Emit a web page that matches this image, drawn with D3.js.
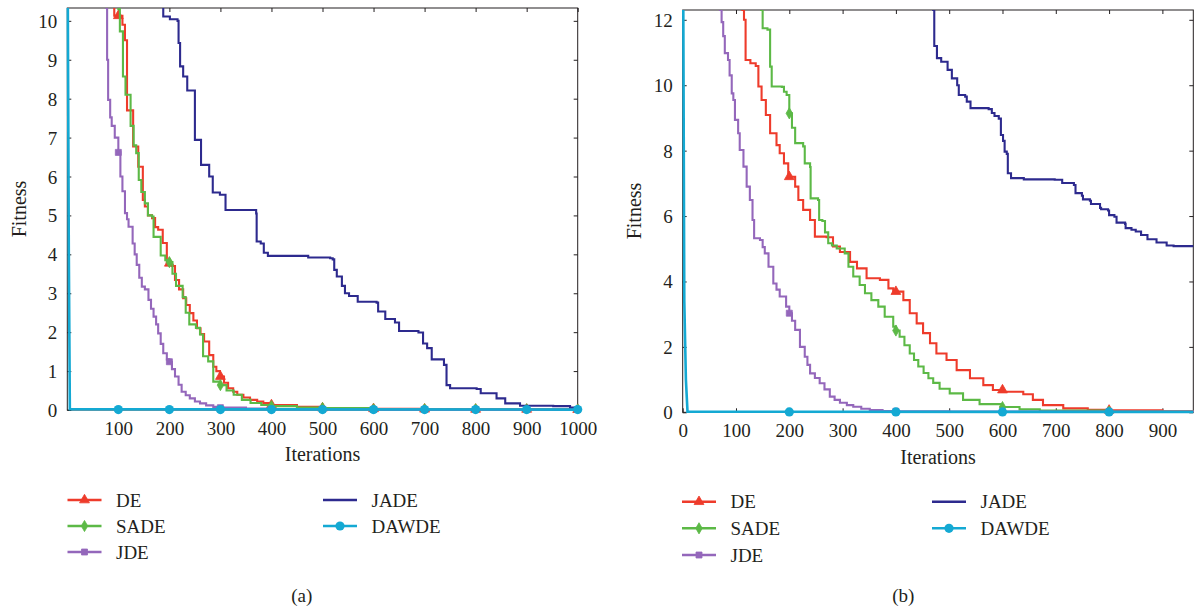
<!DOCTYPE html>
<html><head><meta charset="utf-8">
<script src="https://cdn.jsdelivr.net/npm/d3@7/dist/d3.min.js"></script>
<style>
body{margin:0;background:#fff}
text{font-family:"Liberation Serif","Times New Roman",serif;fill:#231f20}
</style>
</head><body>
<svg id="chart" width="1194" height="612"></svg>
<script>
// ---------- shared ----------
const seriesNames = ["DE", "SADE", "JDE", "JADE", "DAWDE"];
const seriesColors = ["#ee3b2b", "#5cb946", "#9467bb", "#2d2a8e", "#14a9d3"];
const seriesMarkers = ["triangle", "diamond", "square", null, "circle"];

// ---------- panel (a) ----------
const xTicksA = [100, 200, 300, 400, 500, 600, 700, 800, 900, 1000];
const yTicksA = [0, 1, 2, 3, 4, 5, 6, 7, 8, 9, 10];
const deA = [[88,11],[92,10.13],[106,10.13],[108,9.9],[113,9.5],[117,7.7],[129,6.77],[139,6.25],[148,5.4],[152,5.23],[158,5.0],[166,4.93],[172,4.7],[178,4.63],[187,4.29],[195,3.77],[205,3.7],[211,3.34],[219,3.1],[227,2.87],[233,2.7],[240,2.49],[247,2.3],[254,2.1],[261,1.95],[268,1.76],[278,1.41],[286,1.11],[292,1.0],[299,0.86],[307,0.7],[315,0.56],[325,0.47],[333,0.39],[345,0.32],[358,0.26],[372,0.22],[384,0.18],[400,0.13],[450,0.08],[500,0.05],[600,0.03],[700,0.02],[800,0.015],[1000,0.01]];
const sadeA = [[98,11],[100,10.3],[103,9.73],[109,8.57],[114,8.1],[119,8.1],[124,7.3],[130,6.8],[135,6.6],[140,5.91],[145,5.6],[152,5.31],[158,5.0],[166,4.97],[169,4.45],[178,4.45],[183,3.97],[192,3.85],[200,3.8],[206,3.5],[213,3.19],[226,2.9],[232,2.5],[239,2.2],[252,2.11],[260,1.94],[266,1.38],[276,1.25],[286,0.73],[299,0.64],[312,0.5],[326,0.39],[342,0.26],[359,0.18],[380,0.13],[400,0.1],[450,0.06],[500,0.05],[600,0.02],[1000,0.01]];
const jdeA = [[74,11],[76,10.33],[78,9.0],[80,7.97],[84,7.52],[87,7.3],[93,7.0],[100,6.62],[104,6.0],[108,5.62],[113,5.06],[117,4.9],[120,4.71],[128,4.28],[132,4.0],[136,3.73],[141,3.4],[146,3.17],[152,3.1],[159,2.83],[164,2.6],[169,2.4],[174,2.2],[178,1.97],[183,1.7],[188,1.46],[195,1.3],[200,1.24],[205,1.05],[211,0.86],[218,0.65],[224,0.47],[232,0.38],[240,0.3],[250,0.22],[260,0.17],[272,0.12],[286,0.08],[300,0.06],[350,0.04],[400,0.02],[600,0.01],[1000,0.005]];
const jadeA = [[185,11],[188,10.11],[201,10.04],[216,10.0],[218,9.43],[221,8.83],[227,8.57],[235,8.21],[250,6.94],[262,6.3],[278,6.0],[285,5.59],[299,5.53],[310,5.14],[370,5.05],[371,4.33],[379,4.28],[385,4.04],[393,3.96],[472,3.92],[515,3.9],[520,3.87],[523,3.6],[528,3.43],[538,3.19],[544,3.0],[552,2.93],[569,2.78],[606,2.76],[609,2.53],[623,2.34],[642,2.25],[650,2.03],[688,1.99],[697,1.71],[705,1.59],[714,1.3],[738,1.16],[743,0.64],[750,0.56],[802,0.54],[810,0.43],[841,0.3],[858,0.17],[887,0.11],[952,0.1],[985,0.06],[1000,0.05]];
const dawdeA = [[0,60],[1,10.5],[3,4],[5,0.02],[1000,0.01]];

// ---------- panel (b) ----------
const xTicksB = [0, 100, 200, 300, 400, 500, 600, 700, 800, 900];
const yTicksB = [0, 2, 4, 6, 8, 10, 12];
const deB = [[110,13],[112,12.3],[115,12.0],[118,10.77],[127,10.67],[137,10.59],[142,9.96],[148,9.55],[156,9.09],[164,8.53],[176,8.17],[182,7.92],[190,7.61],[198,7.2],[211,6.9],[217,6.49],[226,6.19],[239,5.88],[248,5.37],[270,5.35],[282,5.07],[295,4.9],[314,4.6],[327,4.4],[345,4.1],[370,4.05],[386,3.79],[395,3.69],[414,3.43],[426,3.03],[439,2.72],[451,2.42],[464,2.11],[476,1.8],[495,1.6],[514,1.29],[539,1.04],[564,0.83],[582,0.68],[601,0.63],[639,0.55],[657,0.38],[676,0.22],[714,0.12],[760,0.08],[800,0.06],[900,0.03],[958,0.02]];
const sadeB = [[145,13],[147,12.3],[150,11.74],[159,11.7],[164,10.57],[167,9.96],[186,9.95],[190,9.8],[195,9.7],[200,9.14],[205,8.7],[211,8.23],[226,8.13],[229,7.61],[239,7.5],[240,6.54],[254,6.49],[256,5.88],[262,5.85],[267,5.5],[273,5.17],[280,5.1],[289,5.01],[304,4.86],[311,4.45],[320,4.15],[332,3.89],[342,3.64],[354,3.43],[367,3.23],[379,2.92],[395,2.62],[400,2.5],[407,2.31],[416,2.05],[426,1.8],[434,1.6],[442,1.4],[452,1.2],[461,1.04],[470,0.9],[482,0.72],[501,0.58],[526,0.38],[557,0.25],[599,0.16],[632,0.09],[670,0.05],[800,0.02],[958,0.01]];
const jdeB = [[68,13],[70,12.3],[73,11.93],[76,11.5],[79,10.98],[85,10.77],[88,10.3],[92,9.75],[95,9.55],[98,8.94],[104,8.53],[107,8.02],[114,7.51],[120,6.9],[126,6.49],[131,5.88],[134,5.32],[145,5.27],[150,5.05],[154,4.86],[161,4.45],[170,3.94],[176,3.75],[182,3.54],[194,3.23],[200,3.03],[205,2.8],[211,2.52],[220,2.0],[229,1.7],[234,1.45],[239,1.19],[248,1.05],[257,0.89],[266,0.7],[276,0.48],[285,0.38],[295,0.29],[308,0.22],[320,0.17],[335,0.11],[351,0.07],[375,0.04],[400,0.03],[500,0.02],[958,0.01]];
const jadeB = [[468,13],[470,12.3],[472,11.2],[477,10.83],[485,10.72],[497,10.47],[505,10.21],[515,10.0],[518,9.7],[530,9.65],[533,9.5],[540,9.3],[574,9.27],[580,9.15],[585,9.06],[593,8.98],[597,8.48],[601,8.3],[604,7.97],[608,7.9],[610,7.31],[616,7.16],[640,7.12],[698,7.11],[712,7.01],[734,6.95],[737,6.7],[749,6.62],[751,6.51],[764,6.47],[766,6.37],[783,6.25],[785,6.21],[798,6.17],[800,6.03],[810,5.98],[814,5.8],[830,5.76],[831,5.63],[842,5.58],[850,5.53],[860,5.42],[872,5.29],[889,5.19],[908,5.1],[921,5.08],[958,5.08]];
const dawdeB = [[0,80],[1,13],[3,3.4],[6,1.0],[9,0.02],[958,0.01]];

const svg = d3.select("#chart");

function stepValue(data, x) {
  let v = data[0][1];
  for (const p of data) { if (p[0] <= x) v = p[1]; else break; }
  return v;
}

function drawMarker(g, shape, x, y, color) {
  if (!shape) return;
  if (shape === "circle") {
    g.append("circle").attr("cx", x).attr("cy", y).attr("r", 4.6).attr("fill", color);
  } else {
    const t = shape === "triangle" ? d3.symbolTriangle : shape === "diamond" ? d3.symbolDiamond : d3.symbolSquare;
    const s = shape === "triangle" ? 42 : shape === "diamond" ? 36 : 36;
    g.append("path").attr("d", d3.symbol(t, s)()).attr("transform", `translate(${x},${y})`)
      .attr("fill", color).attr("stroke", color).attr("stroke-width", 0.8);
  }
}

function panel(cfg) {
  const g = svg.append("g");
  const x = d3.scaleLinear().domain(cfg.xDomain).range([cfg.left, cfg.right]);
  const y = d3.scaleLinear().domain(cfg.yDomain).range([cfg.bottom, cfg.top]);
  const clipId = "clip" + cfg.id;
  svg.append("clipPath").attr("id", clipId).append("rect")
    .attr("x", cfg.left - 3).attr("y", cfg.top)
    .attr("width", cfg.right - cfg.left + 6).attr("height", cfg.bottom - cfg.top + 3);

  // frame and ticks
  const axisColor = "#231f20";
  g.append("rect").attr("x", cfg.left).attr("y", cfg.top)
    .attr("width", cfg.right - cfg.left).attr("height", cfg.bottom - cfg.top)
    .attr("fill", "none").attr("stroke", axisColor).attr("stroke-width", 1);
  const tl = 4;
  const xb = d3.axisBottom(x).tickValues(cfg.xTicks).tickSize(-tl).tickPadding(9).tickFormat(d3.format("d"));
  const gx = g.append("g").attr("transform", `translate(0,${cfg.bottom})`).call(xb);
  const xt = d3.axisTop(x).tickValues(cfg.xTicks).tickSize(-tl).tickFormat("");
  const gxt = g.append("g").attr("transform", `translate(0,${cfg.top})`).call(xt);
  const yl = d3.axisLeft(y).tickValues(cfg.yTicks).tickSize(-tl).tickPadding(10).tickFormat(d3.format("d"));
  const gy = g.append("g").attr("transform", `translate(${cfg.left},0)`).call(yl);
  const yr = d3.axisRight(y).tickValues(cfg.yTicks).tickSize(-tl).tickFormat("");
  const gyr = g.append("g").attr("transform", `translate(${cfg.right},0)`).call(yr);
  [gx, gxt, gy, gyr].forEach(a => {
    a.select(".domain").remove();
    a.selectAll("line").attr("stroke", axisColor);
    a.selectAll("text").style("font-family", '"Liberation Serif", serif').style("font-size", "19px").attr("fill", "#231f20");
  });
  gx.selectAll("text").attr("dy", null).attr("y", cfg.xLabelY - cfg.bottom).attr("dominant-baseline", "central");
  gy.selectAll("text").attr("dy", null).attr("dominant-baseline", "central");

  // series
  const plot = g.append("g").attr("clip-path", `url(#${clipId})`);
  const markG = g.append("g");
  cfg.series.forEach((data, i) => {
    const curve = i === 4 ? d3.curveLinear : d3.curveStepAfter;
    const line = d3.line().x(d => x(d[0])).y(d => y(d[1])).curve(curve);
    const sg = plot.append("g");
    sg.append("path").datum(data).attr("d", line).attr("fill", "none")
      .attr("stroke", seriesColors[i]).attr("stroke-width", i === 4 ? 2.6 : 2.1)
      .attr("stroke-linejoin", "miter");
    if (seriesMarkers[i]) {
      const mg = (i === 4) ? g.append("g") : plot.append("g");
      for (let m = cfg.markStep; m <= cfg.xDomain[1] + 0.01; m += cfg.markStep) {
        const v = i === 4 ? 0.01 : stepValue(data, m);
        if (v > cfg.yDomain[1] - 0.15) continue;
        drawMarker(mg, seriesMarkers[i], x(m), y(v), seriesColors[i]);
      }
    }
  });

  // axis titles
  g.append("text").attr("x", (cfg.left + cfg.right) / 2 + cfg.xTitleDx).attr("y", cfg.xTitleY)
    .attr("text-anchor", "middle").style("font-size", "20px").text("Iterations");
  g.append("text").attr("transform", `translate(${cfg.yTitleX},${cfg.yTitleY}) rotate(-90)`)
    .attr("text-anchor", "middle").style("font-size", "20px").text("Fitness");

  // legend
  const leg = g.append("g");
  const positions = [
    [cfg.legX1, cfg.legY[0]], [cfg.legX1, cfg.legY[1]], [cfg.legX1, cfg.legY[2]],
    [cfg.legX2, cfg.legY[0]], [cfg.legX2, cfg.legY[1]]
  ];
  seriesNames.forEach((name, i) => {
    const [lx, ly] = positions[i];
    leg.append("line").attr("x1", lx).attr("x2", lx + 34).attr("y1", ly).attr("y2", ly)
      .attr("stroke", seriesColors[i]).attr("stroke-width", 2.4);
    drawMarker(leg, seriesMarkers[i], lx + 17, ly, seriesColors[i]);
    leg.append("text").attr("x", lx + 48.5).attr("y", ly).attr("dominant-baseline", "central")
      .style("font-size", "19px").text(name);
  });

  g.append("text").attr("x", cfg.capX).attr("y", 595).attr("text-anchor", "middle")
    .attr("dominant-baseline", "central").style("font-size", "19px").text(cfg.caption);
}

panel({
  id: "a", left: 67.3, right: 577.7, top: 8, bottom: 410,
  xDomain: [0, 1000], yDomain: [0, 10.33], xTicks: xTicksA, yTicks: yTicksA,
  series: [deA, sadeA, jdeA, jadeA, dawdeA], markStep: 100,
  xLabelY: 428.5, xTitleY: 461, xTitleDx: 0, yTitleX: 26, yTitleY: 209,
  legX1: 67.5, legX2: 323, legY: [500, 526, 552], capX: 301.7, caption: "(a)"
});
panel({
  id: "b", left: 682.7, right: 1193.3, top: 10, bottom: 412.3,
  xDomain: [0, 958], yDomain: [0, 12.3], xTicks: xTicksB, yTicks: yTicksB,
  series: [deB, sadeB, jdeB, jadeB, dawdeB], markStep: 200,
  xLabelY: 431, xTitleY: 463.5, xTitleDx: 0, yTitleX: 641, yTitleY: 211,
  legX1: 682, legX2: 932, legY: [501.7, 528.3, 555], capX: 903.3, caption: "(b)"
});
</script>
</body></html>
